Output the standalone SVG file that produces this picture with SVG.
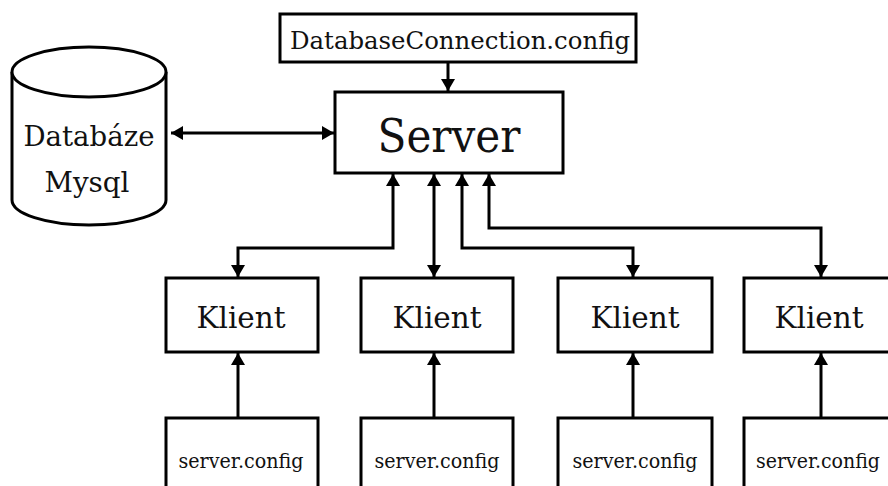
<svg xmlns="http://www.w3.org/2000/svg" width="888" height="486" viewBox="0 0 888 486">
<style>
.box{fill:#fff;stroke:#000;stroke-width:3}
.ln{fill:none;stroke:#000;stroke-width:3}
text{font-family:"DejaVu Serif","Liberation Serif",serif;fill:#111;text-anchor:middle}
.k{font-size:30px}
.c{font-size:21px}
</style>
<defs>
<marker id="ah" markerUnits="userSpaceOnUse" markerWidth="13" markerHeight="15" refX="12" refY="7.5" orient="auto-start-reverse" viewBox="0 0 13 15">
<path d="M0,0.5 L12,7.5 L0,14.5 Z" fill="#000"/>
</marker>
</defs>
<rect width="888" height="486" fill="#fff"/>
<g id="connectors">
<path class="ln" d="M448,63 V91" marker-end="url(#ah)"/>
<path class="ln" d="M171,133 H334" marker-start="url(#ah)" marker-end="url(#ah)"/>
<path class="ln" d="M393,174 V248 H238 V277" marker-start="url(#ah)" marker-end="url(#ah)"/>
<path class="ln" d="M434,174 V277" marker-start="url(#ah)" marker-end="url(#ah)"/>
<path class="ln" d="M462,174 V248 H633 V277" marker-start="url(#ah)" marker-end="url(#ah)"/>
<path class="ln" d="M489,174 V228 H821 V277" marker-start="url(#ah)" marker-end="url(#ah)"/>
<path class="ln" d="M238,418 V353" marker-end="url(#ah)"/>
<path class="ln" d="M434,418 V353" marker-end="url(#ah)"/>
<path class="ln" d="M633,418 V353" marker-end="url(#ah)"/>
<path class="ln" d="M821,418 V353" marker-end="url(#ah)"/>
</g>
<g id="dbconfig">
<rect class="box" x="280" y="14" width="356" height="48"/>
<text x="460" y="49" font-size="24" textLength="340" lengthAdjust="spacingAndGlyphs">DatabaseConnection.config</text>
</g>
<g id="server">
<rect class="box" x="335" y="92" width="228" height="81"/>
<text x="449" y="152" font-size="47" textLength="143" lengthAdjust="spacingAndGlyphs">Server</text>
</g>
<g id="database">
<path class="box" d="M12,72 V200 A77,25 0 0 0 166,200 V72"/>
<ellipse class="box" cx="89" cy="72" rx="77" ry="25"/>
<text x="89" y="146" font-size="27" textLength="131" lengthAdjust="spacingAndGlyphs">Databáze</text>
<text x="87" y="192" font-size="27" textLength="85" lengthAdjust="spacingAndGlyphs">Mysql</text>
</g>
<g id="klient1">
<rect class="box" x="166" y="278" width="152" height="74"/>
<text class="k" x="241" y="328" textLength="89" lengthAdjust="spacingAndGlyphs">Klient</text>
</g>
<g id="klient2">
<rect class="box" x="361" y="278" width="152" height="74"/>
<text class="k" x="437" y="328" textLength="89" lengthAdjust="spacingAndGlyphs">Klient</text>
</g>
<g id="klient3">
<rect class="box" x="558" y="278" width="154" height="74"/>
<text class="k" x="635" y="328" textLength="89" lengthAdjust="spacingAndGlyphs">Klient</text>
</g>
<g id="klient4">
<rect class="box" x="744" y="278" width="147" height="74"/>
<text class="k" x="819" y="328" textLength="89" lengthAdjust="spacingAndGlyphs">Klient</text>
</g>
<g id="config1">
<rect class="box" x="166" y="418" width="152" height="80"/>
<text class="c" x="241" y="468" textLength="125" lengthAdjust="spacingAndGlyphs">server.config</text>
</g>
<g id="config2">
<rect class="box" x="361" y="418" width="152" height="80"/>
<text class="c" x="437" y="468" textLength="125" lengthAdjust="spacingAndGlyphs">server.config</text>
</g>
<g id="config3">
<rect class="box" x="558" y="418" width="154" height="80"/>
<text class="c" x="635" y="468" textLength="125" lengthAdjust="spacingAndGlyphs">server.config</text>
</g>
<g id="config4">
<rect class="box" x="744" y="418" width="147" height="80"/>
<text class="c" x="818" y="468" textLength="124" lengthAdjust="spacingAndGlyphs">server.config</text>
</g>
</svg>
